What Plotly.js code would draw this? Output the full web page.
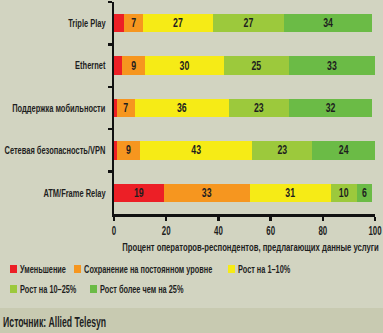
<!DOCTYPE html>
<html><head><meta charset="utf-8">
<script src="https://cdn.plot.ly/plotly-3.0.1.min.js"></script>
<style>html,body{margin:0;padding:0;background:#d2d4c1;}#chart{width:383px;height:333px;}</style>
</head><body><div id="chart"></div>
<script>
// ---- data ----
const categories = ["Triple Play", "Ethernet", "Поддержка мобильности", "Сетевая безопасность/VPN", "ATM/Frame Relay"];
const seriesNames = ["Уменьшение", "Сохранение на постоянном уровне", "Рост на 1–10%", "Рост на 10–25%", "Рост более чем на 25%"];
const decrease   = [4, 3, 1, 1, 19];
const unchanged  = [7, 9, 7, 9, 33];
const grow1to10  = [27, 30, 36, 43, 31];
const grow10to25 = [27, 25, 23, 23, 10];
const growOver25 = [34, 33, 32, 24, 6];
const xTicks = [0, 20, 40, 60, 80, 100];
const xTitle = "Процент операторов-респондентов, предлагающих данные услуги";
const sourceText = "Источник: Allied Telesyn";

// ---- styles ----
const colors = ["#ec1f26", "#f6961f", "#f6eb16", "#9cc93c", "#6bbb46"];
const FONT = "Liberation Sans, Arial, sans-serif";
const INK = "#1e1e1e";
const W = 383, H = 333, L = 114, R = 375, T = 2, B = 214;
const px = x => (x - L) / (R - L);
const py = y => (B - y) / (B - T);

const series = [decrease, unchanged, grow1to10, grow10to25, growOver25];
const traces = series.map((vals, i) => ({
  type: "bar", orientation: "h",
  x: vals, y: categories, name: seriesNames[i],
  marker: {color: colors[i], line: {width: 0}},
  text: vals.map(v => v >= 5 ? String(v) : ""),
  textposition: "inside", insidetextanchor: "middle", textangle: 0,
  textfont: {family: FONT, size: 12.5, color: INK, weight: 700},
  constraintext: "none",
  hoverinfo: "skip", showlegend: false
}));

const annotations = [];
const shapes = [];
// bottom band
shapes.push({type: "rect", xref: "paper", yref: "paper", x0: px(-5), x1: px(W + 5), y0: py(308), y1: py(H + 5),
  fillcolor: "#c8cab1", line: {width: 0}, layer: "below"});
// x title
annotations.push({xref: "paper", yref: "paper", x: px(381), y: py(247), xanchor: "right", yanchor: "middle",
  text: xTitle, showarrow: false, font: {family: FONT, size: 11, color: INK, weight: 700}});
// legend
const legendPos = [[10, 269], [74, 269], [228, 269], [10, 289], [90, 289]];
seriesNames.forEach((n, i) => {
  const [lx, ly] = legendPos[i];
  shapes.push({type: "rect", xref: "paper", yref: "paper", x0: px(lx), x1: px(lx + 7), y0: py(ly + 4), y1: py(ly - 4),
    fillcolor: colors[i], line: {width: 0}});
  annotations.push({xref: "paper", yref: "paper", x: px(lx + 8), y: py(ly), xanchor: "left", yanchor: "middle",
    text: n, showarrow: false, font: {family: FONT, size: 10.5, color: INK, weight: 700}});
});
// source
annotations.push({xref: "paper", yref: "paper", x: px(1), y: py(322), xanchor: "left", yanchor: "middle",
  text: sourceText, showarrow: false, font: {family: FONT, size: 14, color: INK, weight: 700}});

const layout = {
  width: W, height: H,
  margin: {l: L, r: W - R, t: T, b: H - B, pad: 0},
  paper_bgcolor: "#d2d4c1", plot_bgcolor: "rgba(0,0,0,0)",
  barmode: "stack", bargap: 0.57,
  showlegend: false,
  font: {family: FONT, size: 11, color: INK},
  xaxis: {range: [0, 100], tickvals: xTicks, ticktext: xTicks.map(String), showgrid: false, zeroline: false,
    showline: true, linecolor: "#111", linewidth: 2.5, ticks: "outside", ticklen: 4, tickwidth: 2.5, tickcolor: "#111",
    ticklabeloverflow: "allow", tickfont: {family: FONT, size: 12, color: INK, weight: 700}, fixedrange: true},
  yaxis: {type: "category", autorange: "reversed", showgrid: false, zeroline: false,
    showline: true, linecolor: "#111", linewidth: 2.5, ticks: "outside", tickson: "boundaries", ticklen: 4, tickwidth: 2.5, tickcolor: "#111",
    ticklabeloverflow: "allow", tickfont: {family: FONT, size: 11, color: INK, weight: 700}, ticklabelstandoff: 4, fixedrange: true},
  shapes: shapes, annotations: annotations
};

// narrow (condensed) rendering of text, keeping each text's anchor fixed
function condense(el, s, mode) {
  const bb = el.getBBox();
  if (!bb.width) return;
  const ax = mode === "start" ? bb.x : mode === "end" ? bb.x + bb.width : bb.x + bb.width / 2;
  const t = el.getAttribute("transform") || "";
  el.setAttribute("transform", t + " translate(" + ax + ",0) scale(" + s + ",1) translate(" + (-ax) + ",0)");
}
Plotly.newPlot("chart", traces, layout, {staticPlot: true, displayModeBar: false}).then(gd => {
  gd.querySelectorAll(".ytick text").forEach(el => condense(el, 0.68, "end"));
  gd.querySelectorAll(".xtick text").forEach(el => condense(el, 0.66, "middle"));
  gd.querySelectorAll("text.bartext").forEach(el => condense(el, 0.7, "middle"));
  gd.querySelectorAll("g.annotation").forEach(g => {
    const i = +g.getAttribute("data-index");
    const a = annotations[i];
    const mode = a.xanchor === "right" ? "end" : "start";
    const s = i === annotations.length - 1 ? 0.62 : 0.7;
    g.querySelectorAll("text").forEach(el => condense(el, s, mode));
  });
});
</script></body></html>
